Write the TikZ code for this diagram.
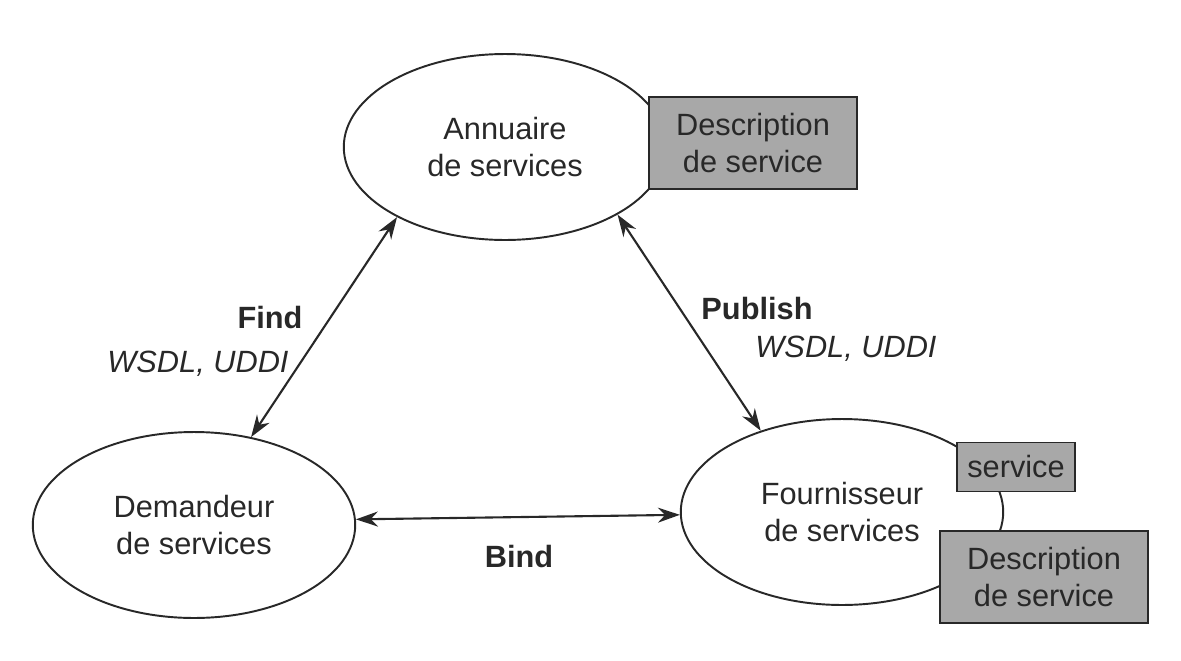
\documentclass[tikz,border=0pt]{standalone}
\usepackage{fontspec}
\setmainfont{Liberation Sans}
\usepackage{tikz}
\usetikzlibrary{arrows.meta,shapes.geometric}
\definecolor{inkgrey}{RGB}{40,40,40}
\definecolor{boxgrey}{RGB}{168,168,168}
\tikzset{
  roleell/.style={ellipse, draw=inkgrey, line width=1.1pt, inner sep=0pt,
                  minimum width=6.45cm, minimum height=3.72cm, align=center,
                  text=inkgrey, font=\fontsize{17.5}{21}\selectfont},
  descbox/.style={rectangle, draw=inkgrey, fill=boxgrey, line width=1.1pt,
                  minimum width=4.16cm, minimum height=1.84cm, inner sep=0pt,
                  align=center, text=inkgrey, font=\fontsize{17.5}{21}\selectfont},
  servbox/.style={descbox, minimum width=2.36cm, minimum height=0.98cm},
  wslink/.style={{Stealth[length=4.4mm,width=3mm]}-{Stealth[length=4.4mm,width=3mm]},
                 line width=1.2pt, inkgrey},
  optag/.style={text=inkgrey, font=\fontsize{17.5}{21}\selectfont\bfseries},
  stdtag/.style={text=inkgrey, font=\fontsize{17.5}{21}\selectfont\itshape},
}
\begin{document}
\begin{tikzpicture}[x=0.02cm, y=-0.02cm]
  \useasboundingbox (0,0) rectangle (1181,660);
  % the three roles
  \node[roleell] (ann) at (505,147) {Annuaire\\de services};
  \node[roleell] (dem) at (194,525) {Demandeur\\de services};
  \node[roleell] (fou) at (842,512) {Fournisseur\\de services};
  % service descriptions
  \node[descbox] (anndesc) at (753,143) {Description\\de service};
  \node[servbox] (fouserv) at (1016,467) {service};
  \node[descbox] (foudesc) at (1044,577) {Description\\de service};
  % operations
  \draw[wslink] (dem.57) -- (ann.213);
  \draw[wslink] (ann.-31) -- (fou.135);
  \draw[wslink] (dem.2) -- (fou.181);
  \node[optag]  (find)   at (270,318) {Find};
  \node[stdtag] (findws) at (198,364) {WSDL, UDDI};
  \node[optag]  (publ)   at (757,309) {Publish};
  \node[stdtag] (publws) at (846,349) {WSDL, UDDI};
  \node[optag]  (bind)   at (519,557) {Bind};
\end{tikzpicture}
\end{document}
